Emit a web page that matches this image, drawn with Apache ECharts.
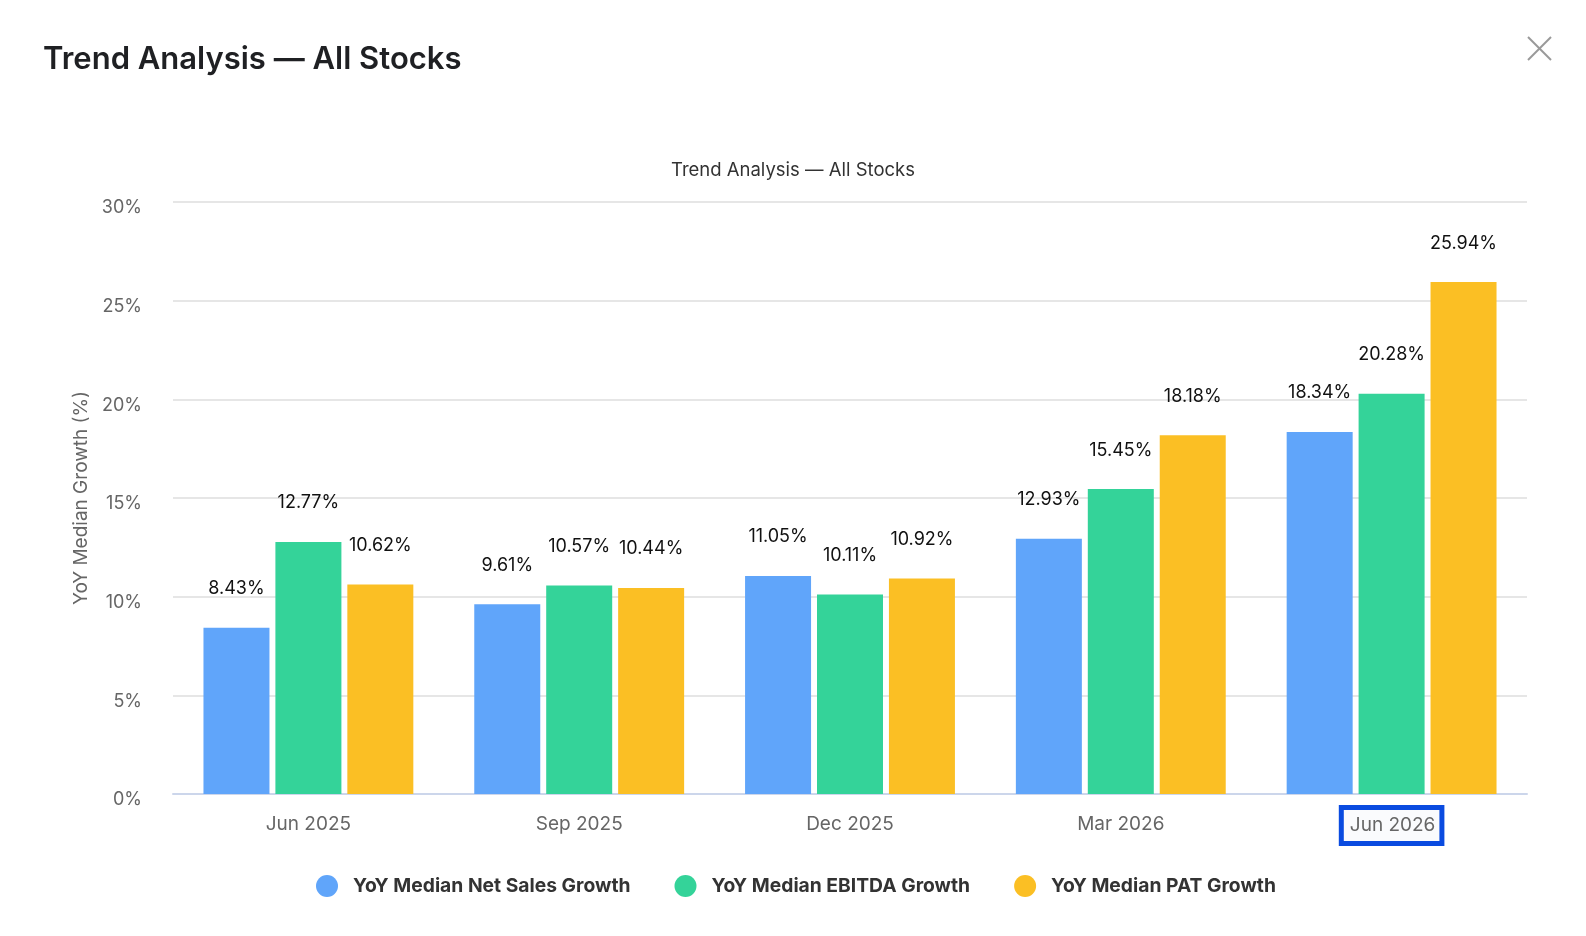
<!DOCTYPE html>
<html>
<head>
<meta charset="utf-8">
<script src="https://cdn.jsdelivr.net/npm/echarts@6/dist/echarts.min.js"></script>
<style>
html,body{margin:0;padding:0;background:#fff;}
#main{width:1586px;height:936px;}
</style>
</head>
<body>
<div id="main"></div>
<script>
const categories = ['Jun 2025', 'Sep 2025', 'Dec 2025', 'Mar 2026', 'Jun 2026'];
const seriesNames = ['YoY Median Net Sales Growth', 'YoY Median EBITDA Growth', 'YoY Median PAT Growth'];
const netSales = [8.43, 9.61, 11.05, 12.93, 18.34];
const ebitda = [12.77, 10.57, 10.11, 15.45, 20.28];
const pat = [10.62, 10.44, 10.92, 18.18, 25.94];
const yTicks = [0, 5, 10, 15, 20, 25, 30];
const highlighted = 'Jun 2026';

const FONT = 'Inter, "Noto Sans", sans-serif';
const colors = ['#60a5fa', '#34d399', '#fbbf24'];

const chart = echarts.init(document.getElementById('main'));

const xData = categories.map(c => c === highlighted ? {
  value: c,
  textStyle: {
    borderColor: '#0a4be0', borderWidth: 5, backgroundColor: '#fafbfd',
    padding: [5, 4, 5, 6], lineHeight: 21
  }
} : c);

function barSeries(name, data, color) {
  return {
    name: name,
    type: 'bar',
    data: data,
    itemStyle: { color: color },
    barGap: '9%',
    barCategoryGap: '22.5%',
    label: {
      show: true, position: 'top', distance: 30,
      formatter: p => p.value.toFixed(2) + '%',
      color: '#111', fontSize: 18, fontFamily: FONT
    }
  };
}

chart.setOption({
  animation: false,
  color: colors,
  title: [
    { text: 'Trend Analysis — All Stocks', left: 38, top: 39,
      textStyle: { fontFamily: FONT, fontSize: 31, fontWeight: 600, color: '#1f2023' } },
    { text: 'Trend Analysis — All Stocks', left: 'center', top: 156,
      textStyle: { fontFamily: FONT, fontSize: 18.5, fontWeight: 'normal', color: '#333' } }
  ],
  graphic: [
    { type: 'line', shape: { x1: 1528, y1: 37, x2: 1551, y2: 60 }, style: { stroke: '#999', lineWidth: 2 } },
    { type: 'line', shape: { x1: 1551, y1: 37, x2: 1528, y2: 60 }, style: { stroke: '#999', lineWidth: 2 } }
  ],
  legend: {
    data: seriesNames,
    bottom: 34,
    left: 311,
    padding: 5,
    icon: 'circle',
    itemWidth: 22, itemHeight: 22,
    itemGap: 44,
    textStyle: { fontFamily: FONT, fontSize: 19.3, fontWeight: 'bold', color: '#333', padding: [0, 0, 0, 10] }
  },
  grid: { left: 173, right: 59, top: 202, bottom: 142, containLabel: false },
  xAxis: {
    type: 'category',
    data: xData,
    axisLine: { lineStyle: { color: '#ccd6eb', width: 2 } },
    axisTick: { show: false },
    axisLabel: { color: '#666', fontSize: 19, fontFamily: FONT, margin: 16, lineHeight: 29 }
  },
  yAxis: {
    type: 'value',
    min: yTicks[0], max: yTicks[yTicks.length - 1], interval: 5,
    name: 'YoY Median Growth (%)',
    nameLocation: 'middle', nameGap: 81,
    nameTextStyle: { color: '#666', fontSize: 19, fontFamily: FONT },
    axisLabel: { color: '#666', fontSize: 18, fontFamily: FONT, margin: 31, formatter: '{value}%',
      verticalAlign: 'top', lineHeight: 12 },
    splitLine: { lineStyle: { color: '#e6e6e6', width: 2 } },
    axisLine: { show: false }, axisTick: { show: false }
  },
  series: [
    barSeries(seriesNames[0], netSales, colors[0]),
    barSeries(seriesNames[1], ebitda, colors[1]),
    barSeries(seriesNames[2], pat, colors[2])
  ]
});
</script>
</body>
</html>
